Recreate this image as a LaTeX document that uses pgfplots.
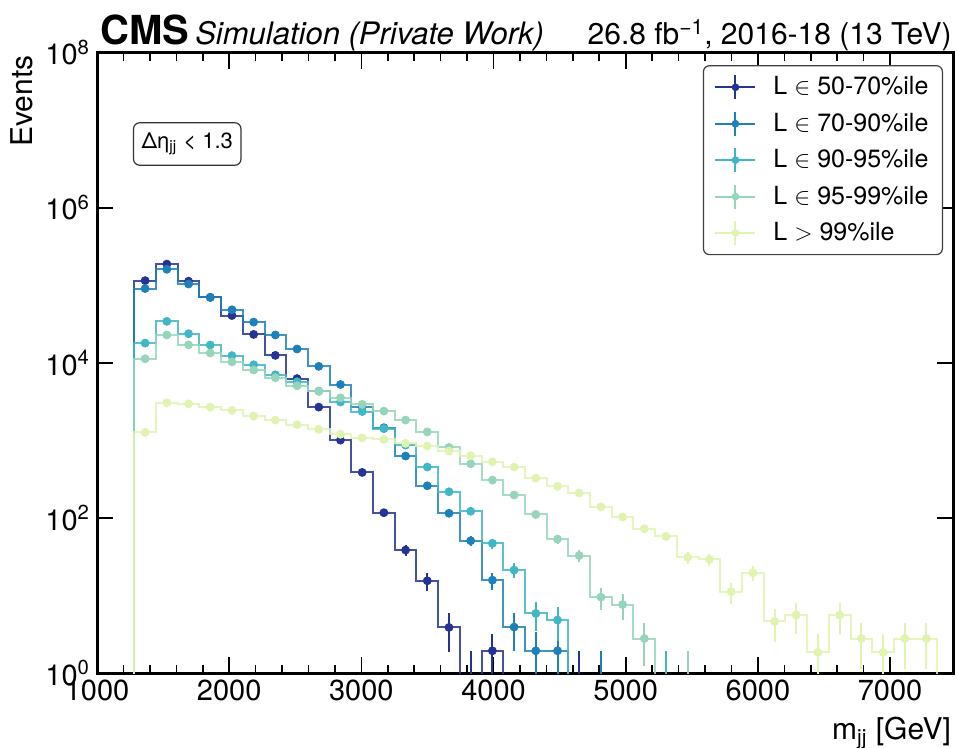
\documentclass[border=0pt]{standalone}
\usepackage{fontspec}
\setmainfont{TeX Gyre Heros}
\usepackage{pgfplots}
\usepackage{pgfplotstable}
\pgfplotsset{compat=1.18}

\definecolor{cA}{RGB}{37,52,148}
\definecolor{cB}{RGB}{30,128,185}
\definecolor{cC}{RGB}{65,182,196}
\definecolor{cD}{RGB}{150,213,186}
\definecolor{cE}{RGB}{224,243,176}

% columns: e = bin low edge, c = bin centre, y = events, ep/em = error
\pgfplotstableread{
e c y ep em
1282.0 nan 0.001 0 0
1282.0 1364.1 115000 339 339
1446.2 1528.3 188000 434 434
1610.4 1692.5 113000 336 336
1774.6 1856.7 70000 265 265
1938.8 2020.9 40800 202 202
2103.0 2185.1 23300 153 153
2267.2 2349.3 12500 112 112
2431.4 2513.5 6280 79 79
2595.6 2677.7 2690 52 52
2759.8 2841.9 1010 32 32
2924.0 3006.1 387 19.7 19.7
3088.2 3170.3 117 10.8 10.8
3252.4 3334.5 38.6 6.2 6.2
3416.6 3498.7 15.5 4.2 4.2
3580.8 3662.9 3.88 2.0 2.0
3745.0 3827.1 0.5 1.4 0.4
3909.2 3991.3 1.94 1.3 1.3
4073.4 4155.5 0.001 0 0
4237.6 4319.7 0.001 0 0
4401.8 4483.9 0.001 0 0
4566.0 4648.1 0.5 1.4 0.4
4730.2 nan 0.001 0 0
}\tabA

\pgfplotstableread{
e c y ep em
1282.0 nan 0.001 0 0
1282.0 1364.1 91000 302 302
1446.2 1528.3 161000 401 401
1610.4 1692.5 104000 322 322
1774.6 1856.7 70000 265 265
1938.8 2020.9 48400 220 220
2103.0 2185.1 33600 183 183
2267.2 2349.3 22900 151 151
2431.4 2513.5 15100 123 123
2595.6 2677.7 9020 95 95
2759.8 2841.9 5260 73 73
2924.0 3006.1 2720 52 52
3088.2 3170.3 1460 38 38
3252.4 3334.5 629 25 25
3416.6 3498.7 260 16 16
3580.8 3662.9 115 10.7 10.7
3745.0 3827.1 50.9 7.1 7.1
3909.2 3991.3 15.8 4.0 4.0
4073.4 4155.5 3.92 2.0 2.0
4237.6 4319.7 1.94 1.4 1.4
4401.8 4483.9 1.94 1.4 1.4
4566.0 4648.1 0.001 0 0
4730.2 4812.3 0.5 1.4 0.4
4894.4 nan 0.001 0 0
}\tabB

\pgfplotstableread{
e c y ep em
1282.0 nan 0.001 0 0
1282.0 1364.1 18000 134 134
1446.2 1528.3 34300 185 185
1610.4 1692.5 23800 154 154
1774.6 1856.7 17000 130 130
1938.8 2020.9 12400 111 111
2103.0 2185.1 9460 97 97
2267.2 2349.3 7030 84 84
2431.4 2513.5 5710 76 76
2595.6 2677.7 4330 66 66
2759.8 2841.9 3130 56 56
2924.0 3006.1 2360 49 49
3088.2 3170.3 1420 38 38
3252.4 3334.5 871 30 30
3416.6 3498.7 454 21 21
3580.8 3662.9 218 15 15
3745.0 3827.1 122 11 11
3909.2 3991.3 47.1 6.9 6.9
4073.4 4155.5 21.3 4.6 4.6
4237.6 4319.7 5.89 2.4 2.4
4401.8 4483.9 4.83 2.2 2.2
4566.0 4648.1 0.001 0 0
4730.2 4812.3 0.001 0 0
4894.4 4976.5 0.001 0 0
5058.6 5140.7 0.001 0 0
5222.8 5304.9 0.5 1.4 0.4
5387.0 nan 0.001 0 0
}\tabC

\pgfplotstableread{
e c y ep em
1282.0 nan 0.001 0 0
1282.0 1364.1 11300 106 106
1446.2 1528.3 22900 151 151
1610.4 1692.5 17100 131 131
1774.6 1856.7 13400 116 116
1938.8 2020.9 10300 101 101
2103.0 2185.1 8090 90 90
2267.2 2349.3 6430 80 80
2431.4 2513.5 5070 71 71
2595.6 2677.7 4300 66 66
2759.8 2841.9 3550 60 60
2924.0 3006.1 2920 54 54
3088.2 3170.3 2390 49 49
3252.4 3334.5 1830 43 43
3416.6 3498.7 1290 36 36
3580.8 3662.9 814 29 29
3745.0 3827.1 500 22 22
3909.2 3991.3 308 18 18
4073.4 4155.5 198 14 14
4237.6 4319.7 111 10.5 10.5
4401.8 4483.9 53.5 7.3 7.3
4566.0 4648.1 32.7 5.7 5.7
4730.2 4812.3 9.55 3.1 3.1
4894.4 4976.5 7.65 2.8 2.8
5058.6 5140.7 2.79 1.6 1.55
5222.8 5304.9 0.001 0 0
5387.0 5469.1 0.5 1.4 0.4
5551.2 nan 0.001 0 0
}\tabD

\pgfplotstableread{
e c y ep em
1282.0 nan 0.001 0 0
1282.0 1364.1 1270 36 36
1446.2 1528.3 3060 55 55
1610.4 1692.5 2970 54 54
1774.6 1856.7 2690 52 52
1938.8 2020.9 2440 49 49
2103.0 2185.1 2060 45 45
2267.2 2349.3 1830 43 43
2431.4 2513.5 1600 40 40
2595.6 2677.7 1390 37 37
2759.8 2841.9 1200 35 35
2924.0 3006.1 1080 33 33
3088.2 3170.3 1030 32 32
3252.4 3334.5 917 30 30
3416.6 3498.7 847 29 29
3580.8 3662.9 730 27 27
3745.0 3827.1 635 25 25
3909.2 3991.3 531 23 23
4073.4 4155.5 454 21 21
4237.6 4319.7 327 18 18
4401.8 4483.9 256 16 16
4566.0 4648.1 210 14.5 14.5
4730.2 4812.3 139 11.8 11.8
4894.4 4976.5 103 10.1 10.1
5058.6 5140.7 72.6 8.5 8.5
5222.8 5304.9 57.8 7.6 7.6
5387.0 5469.1 31.1 5.6 5.6
5551.2 5633.3 29.3 5.4 5.4
5715.4 5797.5 11.2 3.35 3.35
5879.6 5961.7 19.7 4.44 4.44
6043.8 6125.9 4.64 2.15 2.15
6208.0 6290.1 5.60 2.37 2.37
6372.2 6454.3 1.85 1.36 1.36
6536.4 6618.5 5.60 2.37 2.37
6700.6 6782.7 2.79 1.67 1.67
6864.8 6946.9 1.85 1.36 1.36
7029.0 7111.1 2.79 1.67 1.67
7193.2 7275.3 2.79 1.67 1.67
7357.4 nan 2.79 0 0
7357.4 nan 0.001 0 0
}\tabE

\pgfplotsset{
  steps/.style={const plot, line width=1pt, opacity=0.85, forget plot, mark=none},
  pts/.style={only marks, mark=*, mark size=2pt, forget plot,
    error bars/y dir=both, error bars/y explicit, error bars/error mark=none,
    error bars/error bar style={line width=1pt}},
}

\begin{document}
\begin{tikzpicture}
\begin{axis}[
  name=ax,
  scale only axis,
  width=428pt, height=310.2pt,
  xmin=1000, xmax=7476,
  ymode=log, ymin=1, ymax=1e8,
  xtick={1000,2000,3000,4000,5000,6000,7000},
  xticklabels={1000,2000,3000,4000,5000,6000,7000},
  minor x tick num=4,
  ytick={1,100,10000,1000000,100000000},
  yticklabels={10\textsuperscript{0},10\textsuperscript{2},10\textsuperscript{4},10\textsuperscript{6},10\textsuperscript{8}},
  yminorticks=false,
  tick align=inside,
  major tick length=8pt,
  minor tick length=4pt,
  every tick/.style={black, line width=0.8pt},
  axis line style={line width=1.5pt},
  tick label style={font=\fontsize{14.5}{17}\selectfont},
  xlabel={m\textsubscript{jj} [GeV]},
  ylabel={Events},
  label style={font=\fontsize{15}{18}\selectfont, inner sep=0pt},
  ylabel style={at={(axis description cs:-0.0748,0.996)}, anchor=south east},
  xlabel style={at={(axis description cs:0.998,-0.071)}, anchor=north east},
  clip marker paths=true,
  legend cell align=left,
  legend style={at={(rel axis cs:1,1)}, anchor=north east, xshift=-5pt, yshift=-6.2pt,
    draw=black!75, rounded corners=3pt, line width=0.6pt,
    font=\fontsize{12.5}{15}\selectfont, inner xsep=5.5pt, inner ysep=4pt,
    row sep=4.6pt, nodes={inner sep=1.5pt},
    /tikz/every odd column/.append style={column sep=7pt}},
  legend image code/.code={
    \draw[#1, line width=1pt] (0pt,0pt) -- (20pt,0pt);
    \draw[#1, line width=1pt] (10pt,-6pt) -- (10pt,6pt);
    \fill[#1] (10pt,0pt) circle (1.6pt);
  },
]
\addplot[steps, cA] table[x=e, y=y] {\tabA};
\addplot[cA, pts] table[x=c, y=y, y error plus=ep, y error minus=em] {\tabA};
\addplot[steps, cB] table[x=e, y=y] {\tabB};
\addplot[cB, pts] table[x=c, y=y, y error plus=ep, y error minus=em] {\tabB};
\addplot[steps, cC] table[x=e, y=y] {\tabC};
\addplot[cC, pts] table[x=c, y=y, y error plus=ep, y error minus=em] {\tabC};
\addplot[steps, cD] table[x=e, y=y] {\tabD};
\addplot[cD, pts] table[x=c, y=y, y error plus=ep, y error minus=em] {\tabD};
\addplot[steps, cE] table[x=e, y=y] {\tabE};
\addplot[cE, pts] table[x=c, y=y, y error plus=ep, y error minus=em] {\tabE};

\addlegendimage{color=cA}\addlegendentry{L $\in$ 50-70\%ile}
\addlegendimage{color=cB}\addlegendentry{L $\in$ 70-90\%ile}
\addlegendimage{color=cC}\addlegendentry{L $\in$ 90-95\%ile}
\addlegendimage{color=cD}\addlegendentry{L $\in$ 95-99\%ile}
\addlegendimage{color=cE}\addlegendentry{L $>$ 99\%ile}

\node[draw=black!80, rounded corners=3pt, anchor=north west, inner xsep=4pt, inner ysep=5pt,
  line width=0.6pt, font=\fontsize{11}{13}\selectfont]
  at (rel axis cs:0.042,0.888) {Δη\textsubscript{jj} < 1.3};
\end{axis}
\node[anchor=base west, inner sep=0pt] at ([xshift=1.5pt,yshift=4pt]ax.north west)
  {{\fontsize{20}{24}\selectfont\bfseries CMS}\hspace{3pt}{\fontsize{15.5}{18}\selectfont\itshape Simulation (Private Work)}};
\node[anchor=base east, inner sep=0pt] at ([xshift=-0.5pt,yshift=4pt]ax.north east)
  {\fontsize{15}{18}\selectfont 26.8 fb\textsuperscript{−1}, 2016-18 (13 TeV)};
\pgfresetboundingbox
\useasboundingbox ([xshift=-48.5pt,yshift=-37pt]ax.south west) rectangle ([xshift=2pt,yshift=26.35pt]ax.north east);
\end{tikzpicture}
\end{document}
